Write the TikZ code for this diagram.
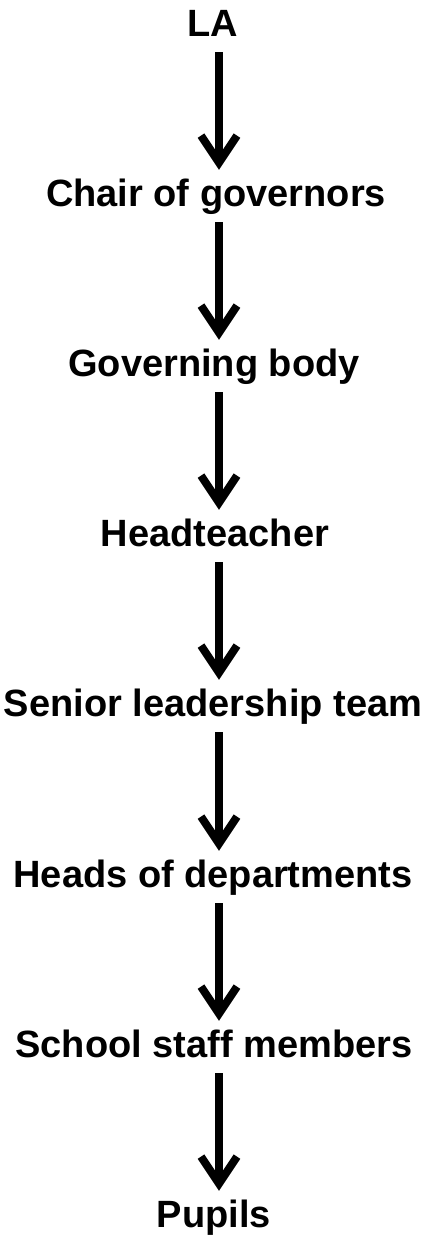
\documentclass[tikz,border=0pt]{standalone}
\usepackage{fontspec}
\setmainfont{Liberation Sans}
\usetikzlibrary{arrows.meta}
\begin{document}
\begin{tikzpicture}[x=1pt,y=1pt,>={Straight Barb[length=27pt,width=36pt]},
		line join=miter,font=\fontsize{38}{40}\selectfont\bfseries,
		lvl/.style={inner sep=0pt,text height=27pt,text depth=0pt,anchor=base},
		dn/.style={->,line width=8pt,shorten <=16pt,shorten >=9pt}]
	\useasboundingbox (0,0) rectangle (426,-1240);
	\node[lvl] (la) at (213,-36) {LA};
	\node[lvl] (chair) at (216,-206) {Chair of governors};
	\node[lvl] (gov) at (214,-376) {Governing body};
	\node[lvl] (head) at (215,-546) {Headteacher};
	\node[lvl] (slt) at (213,-716) {Senior leadership team};
	\node[lvl] (hod) at (213,-887) {Heads of departments};
	\node[lvl] (staff) at (214,-1057) {School staff members};
	\node[lvl] (pupils) at (214,-1227) {Pupils};
	\foreach \a/\b in {la/chair,chair/gov,gov/head,head/slt,slt/hod,hod/staff,staff/pupils}
		\draw[dn] (219,0 |- \a.south) -- (219,0 |- \b.north);
\end{tikzpicture}
\end{document}
